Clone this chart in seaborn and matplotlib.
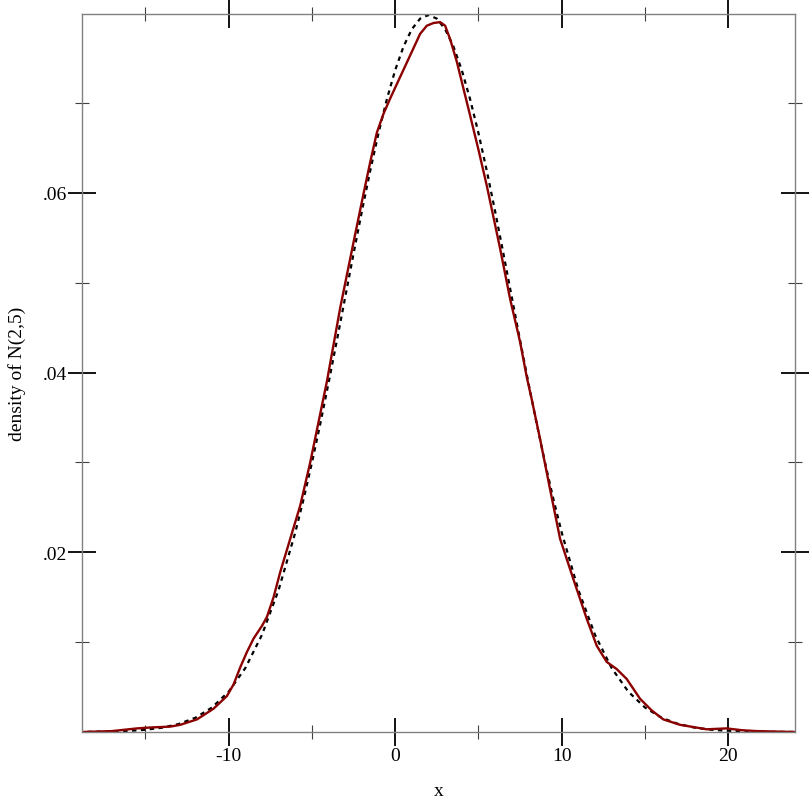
import matplotlib
matplotlib.use("Agg")
import matplotlib.pyplot as plt
from matplotlib.ticker import FixedLocator, FuncFormatter
import seaborn as sns
import pandas as pd

# theoretical density of N(2,5)
normal_x = [-19, -18, -17, -16, -15, -14, -13, -12, -11, -10, -9, -8, -7, -6,
            -5.5, -5, -4.5, -4, -3.5, -3, -2.5, -2, -1.5, -1, -0.5, 0, 0.5, 1, 1.5, 2,
            2.5, 3, 3.5, 4, 4.5, 5, 5.5, 6, 6.5, 7, 7.5, 8, 8.5, 9, 9.5,
            10, 11, 12, 13, 14, 15, 16, 17, 18, 19, 20, 21, 22, 23, 24]
normal_y = [0.0000118, 0.0000268, 0.0000584, 0.000122, 0.000247, 0.000477, 0.000886, 0.00158,
            0.00272, 0.00448, 0.00710, 0.01080, 0.01579, 0.02218,
            0.02590, 0.02995, 0.03427, 0.03884, 0.04357, 0.04839, 0.05322, 0.05794, 0.06245,
            0.06665, 0.07041, 0.07365, 0.07628, 0.07821, 0.07939, 0.07979,
            0.07939, 0.07821, 0.07628, 0.07365, 0.07041, 0.06665, 0.06245, 0.05794, 0.05322,
            0.04839, 0.04357, 0.03884, 0.03427, 0.02995, 0.02590,
            0.02218, 0.01579, 0.01080, 0.00710, 0.00448, 0.00272, 0.00158, 0.000886,
            0.000477, 0.000247, 0.000122, 0.0000584, 0.0000268, 0.0000118, 0.000005]

# estimated density of the sample (red curve)
kde_x = [-18.8, -17.0, -15.5, -14.7, -13.5, -12.9, -11.9, -10.9, -10.1, -9.7, -9.3, -8.9,
         -8.5, -8.0, -7.7, -7.3, -6.9, -6.3, -5.7, -5.1, -4.6, -4.1, -3.3, -2.5, -1.9,
         -1.5, -1.1, -0.7, -0.3, 0.3, 0.9, 1.5, 1.9, 2.3, 2.7, 3.0, 3.3, 3.7, 4.1, 4.5,
         5.0, 5.5, 6.3, 6.9, 7.5, 7.9, 8.2, 8.7, 9.3, 9.9, 10.7, 11.1, 11.5, 12.1, 12.7,
         13.3, 13.9, 14.7, 15.4, 16.1, 17.1, 18.7, 19.9, 20.8, 21.7, 24.0]
kde_y = [0.0, 0.0001, 0.0004, 0.0005, 0.0006, 0.0008, 0.0014, 0.0026, 0.0040, 0.0053, 0.0072, 0.0089,
         0.0104, 0.0118, 0.0128, 0.0150, 0.0178, 0.0215, 0.0252, 0.0300, 0.0345, 0.0390, 0.0472, 0.0545, 0.0599,
         0.0634, 0.0667, 0.0688, 0.0705, 0.0729, 0.0753, 0.0777, 0.0786, 0.0789, 0.0790, 0.0786, 0.0771, 0.0746, 0.0716, 0.0686,
         0.0648, 0.0608, 0.0538, 0.0482, 0.0434, 0.0395, 0.0370, 0.0326, 0.0270, 0.0215, 0.0170, 0.0148, 0.0126, 0.0096, 0.0078,
         0.0070, 0.0059, 0.0037, 0.0024, 0.0014, 0.0008, 0.0003, 0.0004, 0.0002, 0.0001, 0.0]

x_major = [-10, 0, 10, 20]
x_minor = [-15, -5, 5, 15]
y_major = [0.02, 0.04, 0.06]
y_minor = [0.01, 0.03, 0.05, 0.07]

sns.set_theme(style="white")
plt.rcParams["font.family"] = ["Liberation Serif", "DejaVu Serif"]
plt.rcParams["axes.unicode_minus"] = False

normal_df = pd.DataFrame({"x": normal_x, "y": normal_y})
kde_df = pd.DataFrame({"x": kde_x, "y": kde_y})

fig = plt.figure(figsize=(8.12, 8.12), dpi=100)
ax = fig.add_axes([0.101, 0.0973, 0.878, 0.8842])

sns.lineplot(data=normal_df, x="x", y="y", ax=ax, color="black",
             linewidth=1.6, linestyle=(0, (2, 2)))
sns.lineplot(data=kde_df, x="x", y="y", ax=ax, color="#8b0000", linewidth=1.7)

ax.set_xlim(-18.8, 24.0)
ax.set_ylim(0, 0.0799)

for s in ax.spines.values():
    s.set_color("#808080")
    s.set_linewidth(1.0)

ax.xaxis.set_major_locator(FixedLocator(x_major))
ax.xaxis.set_minor_locator(FixedLocator(x_minor))
ax.yaxis.set_major_locator(FixedLocator(y_major))
ax.yaxis.set_minor_locator(FixedLocator(y_minor))
ax.yaxis.set_major_formatter(FuncFormatter(lambda v, p: ("%.2f" % v).lstrip("0")))

ax.tick_params(which="major", direction="inout", length=20, width=1.3, color="black",
               bottom=True, left=True, top=True, right=True,
               labelsize=14, labelcolor="black", pad=1)
ax.tick_params(which="minor", direction="inout", length=10, width=0.8, color="#404040",
               bottom=True, left=True, top=True, right=True)

ax.set_xlabel("x", fontsize=14, color="black", labelpad=13)
ax.set_ylabel("density of N(2,5)", fontsize=14, color="black", labelpad=12)

fig.savefig("out.png", dpi=100)
